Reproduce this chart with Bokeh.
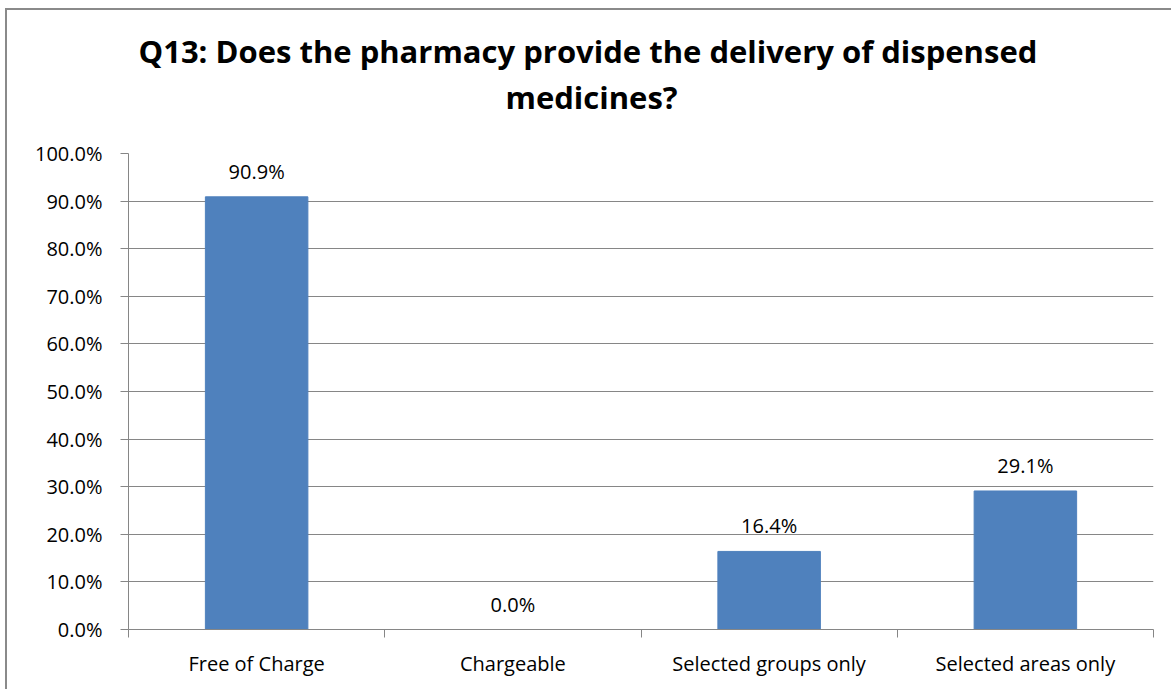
from bokeh.plotting import figure
from bokeh.models import (ColumnDataSource, Range1d, LinearAxis, Title,
                          FixedTicker, NumeralTickFormatter, LabelSet, Grid)
from bokeh.core.properties import value
from bokeh.embed import file_html
from bokeh.resources import INLINE

categories = ["Free of Charge", "Chargeable", "Selected groups only", "Selected areas only"]
values = [0.909, 0.0, 0.164, 0.291]
value_labels = ["90.9%", "0.0%", "16.4%", "29.1%"]
title_lines = ["Q13: Does the pharmacy provide the delivery of dispensed", "medicines?"]

GRAY = "#868686"
BAR = "#4F81BD"
FONT = "Open Sans"

n = len(categories)
centers = [i + 0.5 for i in range(n)]
source = ColumnDataSource(dict(x=centers, val=values, lab=value_labels))

p = figure(x_range=Range1d(0, n), y_range=Range1d(0, 1),
           width=1166, height=681, output_backend="svg", toolbar_location=None,
           x_axis_location=None, y_axis_location=None,
           min_border_left=121, min_border_right=20, min_border_top=143, min_border_bottom=62)
p.outline_line_color = None
p.background_fill_color = "white"
p.border_fill_color = "white"
p.xgrid.visible = False
p.ygrid.visible = False

# y axis
yax = LinearAxis(ticker=FixedTicker(ticks=[i / 10 for i in range(11)]),
                 formatter=NumeralTickFormatter(format="0.0%"))
yax.axis_line_color = GRAY
yax.major_tick_line_color = GRAY
yax.major_tick_out = 8
yax.major_tick_in = 0
yax.minor_tick_out = 0
yax.minor_tick_in = 0
yax.major_label_text_font = FONT
yax.major_label_text_font_size = "20px"
yax.major_label_text_color = "black"
yax.major_label_standoff = 18
p.add_layout(yax, "left")

p.add_layout(Grid(dimension=1, ticker=yax.ticker, grid_line_color=GRAY, grid_line_width=1))

# x boundary ticks
ticks_b = list(range(n + 1))
tax = LinearAxis(ticker=FixedTicker(ticks=ticks_b),
                 major_label_overrides={t: "" for t in ticks_b})
tax.axis_line_color = GRAY
tax.major_tick_line_color = GRAY
tax.major_tick_out = 8
tax.major_tick_in = 0
tax.minor_tick_out = 0
tax.minor_tick_in = 0
tax.major_label_text_font_size = "0px"
tax.major_label_standoff = 0
p.add_layout(tax, "below")

# category labels
cax = LinearAxis(ticker=FixedTicker(ticks=centers),
                 major_label_overrides={c: lab for c, lab in zip(centers, categories)})
cax.axis_line_color = None
cax.major_tick_line_color = None
cax.major_tick_out = 0
cax.minor_tick_line_color = None
cax.major_label_text_font = FONT
cax.major_label_text_font_size = "20px"
cax.major_label_text_color = "black"
cax.major_label_standoff = 12
p.add_layout(cax, "below")

p.vbar(x="x", top="val", width=0.4, source=source, fill_color=BAR, line_color=BAR)

labels = LabelSet(x="x", y="val", text="lab", source=source, y_offset=18,
                  text_align="center", text_baseline="alphabetic",
                  text_font=value(FONT), text_font_size="20px", text_color="black")
p.add_layout(labels)

# title lines: add the lower line first (closest to the frame)
t2 = Title(text=title_lines[1], align="left", offset=377, standoff=71,
           text_font=FONT, text_font_style="bold", text_font_size="31px", text_color="black")
t1 = Title(text=title_lines[0], align="left", offset=10, standoff=-67,
           text_font=FONT, text_font_style="bold", text_font_size="31px", text_color="black")
p.add_layout(t2, "above")
p.add_layout(t1, "above")

p.styles = {"border-top": "2px solid #8a8a8a", "border-left": "2px solid #8a8a8a",
            "margin-top": "8px", "margin-left": "5px"}

open("out.html", "w").write(file_html(p, INLINE))
